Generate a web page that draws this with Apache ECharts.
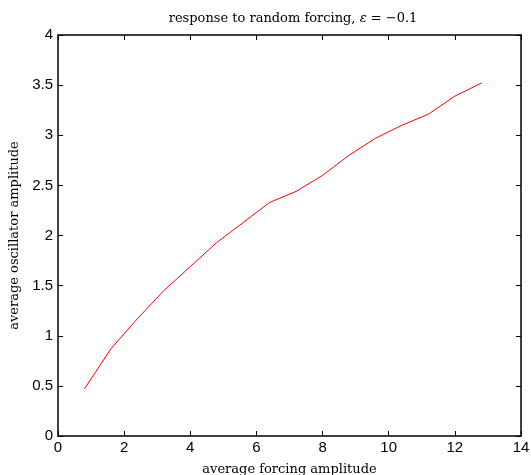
<!DOCTYPE html>
<html>
<head>
<meta charset="utf-8">
<script src="https://cdn.jsdelivr.net/npm/echarts@6/dist/echarts.min.js"></script>
<style>
html,body{margin:0;padding:0;background:#fff;}
#c{width:531px;height:475px;}
</style>
</head>
<body>
<div id="c"></div>
<script>
const forcing = [0.8, 1.6, 2.4, 3.2, 4.0, 4.8, 5.6, 6.4, 7.2, 8.0, 8.8, 9.6, 10.4, 11.2, 12.0, 12.8];
const amplitude = [0.47, 0.87, 1.17, 1.45, 1.69, 1.93, 2.13, 2.33, 2.44, 2.60, 2.80, 2.97, 3.10, 3.21, 3.39, 3.52];
const xTicks = [0, 2, 4, 6, 8, 10, 12, 14];
const yTicks = [0, 0.5, 1, 1.5, 2, 2.5, 3, 3.5, 4];

const chart = echarts.init(document.getElementById('c'), null, {renderer: 'canvas'});
const serif = '"DejaVu Serif", "Liberation Serif", serif';
const sans = '"Liberation Sans", Arial, sans-serif';
const axisLine = {show: true, onZero: false, lineStyle: {color: '#000', width: 1.5}};
const tick = {show: true, inside: true, length: 5, lineStyle: {color: '#000', width: 1}};
chart.setOption({
  animation: false,
  backgroundColor: '#fff',
  title: {
    text: 'response to random forcing, {i|ε} = −0.1',
    left: 288, top: 7, textAlign: 'center',
    textStyle: {
      fontFamily: serif, fontSize: 13, fontWeight: 'normal', color: '#000',
      rich: {i: {fontFamily: serif, fontSize: 13, fontStyle: 'italic', color: '#000'}}
    }
  },
  grid: {left: 58, right: 10, top: 35, bottom: 39, containLabel: false, outerBoundsMode: 'none'},
  xAxis: [{
    type: 'value', min: xTicks[0], max: xTicks[xTicks.length - 1], interval: 2,
    position: 'bottom',
    axisLine: axisLine, axisTick: tick, splitLine: {show: false},
    axisLabel: {color: '#000', fontFamily: sans, fontSize: 15, margin: 4,
      formatter: v => xTicks.includes(v) ? String(v) : ''},
    name: 'average forcing amplitude', nameLocation: 'middle', nameGap: 27,
    nameTextStyle: {fontFamily: serif, fontSize: 13, color: '#000'}
  }, {
    type: 'value', min: 0, max: 14, interval: 2, position: 'top',
    axisLine: axisLine, axisTick: tick, splitLine: {show: false},
    axisLabel: {show: false}
  }],
  yAxis: [{
    type: 'value', min: yTicks[0], max: yTicks[yTicks.length - 1], interval: 0.5,
    position: 'left',
    axisLine: axisLine, axisTick: tick, splitLine: {show: false},
    axisLabel: {color: '#000', fontFamily: sans, fontSize: 15, margin: 5,
      formatter: v => yTicks.includes(v) ? String(v) : ''},
    name: 'average oscillator amplitude', nameLocation: 'middle', nameGap: 37,
    nameTextStyle: {fontFamily: serif, fontSize: 13, color: '#000'}
  }, {
    type: 'value', min: 0, max: 4, interval: 0.5, position: 'right',
    axisLine: axisLine, axisTick: tick, splitLine: {show: false},
    axisLabel: {show: false}
  }],
  series: [{
    type: 'line',
    data: forcing.map((x, i) => [x, amplitude[i]]),
    showSymbol: false,
    lineStyle: {color: '#ff0000', width: 1},
    itemStyle: {color: '#ff0000'}
  }]
});
</script>
</body>
</html>
